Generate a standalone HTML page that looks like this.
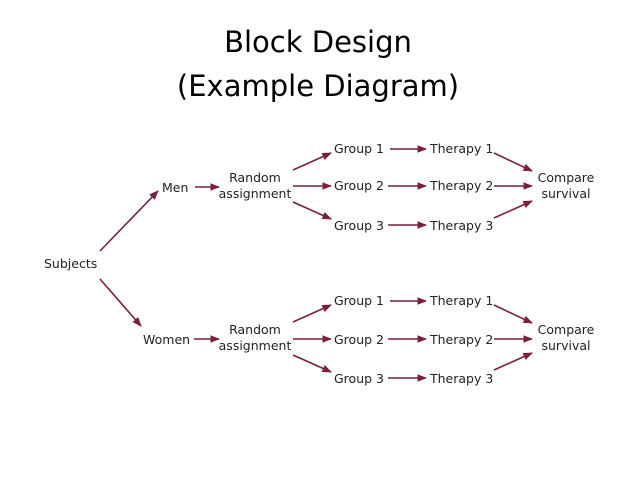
<!DOCTYPE html>
<html><head><meta charset="utf-8"><style>
html,body{margin:0;padding:0;background:#fff;}
svg{display:block;}
text{font-family:"DejaVu Sans","Liberation Sans",sans-serif;fill:#222;}
.t{font-size:12.5px;}
</style></head><body>
<svg width="638" height="479" viewBox="0 0 638 479" xmlns="http://www.w3.org/2000/svg">
<defs><marker id="a" viewBox="0 0 10 10" refX="9" refY="5" markerWidth="6" markerHeight="6" orient="auto"><path d="M0,1 L10,5 L0,9 z" fill="#7a1f3d"/></marker></defs>
<text x="318" y="52" text-anchor="middle" style="font-size:29px;fill:#000">Block Design</text>
<text x="318" y="96" text-anchor="middle" style="font-size:29px;fill:#000">(Example Diagram)</text>
<g stroke="#7a1f3d" stroke-width="1.6" fill="none" marker-end="url(#a)">
<line x1="100" y1="251" x2="158" y2="191"/>
<line x1="100" y1="279" x2="141" y2="326"/>
<line x1="195" y1="187" x2="219" y2="187"/>
<line x1="194" y1="339" x2="219" y2="339"/>
<!-- top -->
<line x1="293" y1="170" x2="331" y2="153"/>
<line x1="293" y1="186" x2="331" y2="186"/>
<line x1="293" y1="202" x2="331" y2="219"/>
<line x1="390" y1="149" x2="426" y2="149"/>
<line x1="388" y1="186" x2="426" y2="186"/>
<line x1="388" y1="225" x2="426" y2="225"/>
<line x1="494" y1="153" x2="532" y2="171"/>
<line x1="494" y1="186" x2="532" y2="186"/>
<line x1="494" y1="218" x2="532" y2="201"/>
<!-- bottom -->
<line x1="293" y1="322" x2="331" y2="305"/>
<line x1="293" y1="339" x2="331" y2="339"/>
<line x1="293" y1="355" x2="331" y2="372"/>
<line x1="390" y1="301" x2="426" y2="301"/>
<line x1="388" y1="339" x2="426" y2="339"/>
<line x1="388" y1="378" x2="426" y2="378"/>
<line x1="494" y1="305" x2="532" y2="323"/>
<line x1="494" y1="339" x2="532" y2="339"/>
<line x1="494" y1="370" x2="532" y2="353"/>
</g>
<g class="t">
<text x="44" y="268" class="t">Subjects</text>
<text x="162" y="192" class="t">Men</text>
<text x="143" y="344" class="t">Women</text>
<text x="255" y="182" text-anchor="middle" class="t">Random</text>
<text x="255" y="198" text-anchor="middle" class="t">assignment</text>
<text x="255" y="334" text-anchor="middle" class="t">Random</text>
<text x="255" y="350" text-anchor="middle" class="t">assignment</text>
<text x="334" y="153" class="t">Group 1</text>
<text x="334" y="190" class="t">Group 2</text>
<text x="334" y="230" class="t">Group 3</text>
<text x="334" y="305" class="t">Group 1</text>
<text x="334" y="344" class="t">Group 2</text>
<text x="334" y="383" class="t">Group 3</text>
<text x="430" y="153" class="t">Therapy 1</text>
<text x="430" y="190" class="t">Therapy 2</text>
<text x="430" y="230" class="t">Therapy 3</text>
<text x="430" y="305" class="t">Therapy 1</text>
<text x="430" y="344" class="t">Therapy 2</text>
<text x="430" y="383" class="t">Therapy 3</text>
<text x="566" y="182" text-anchor="middle" class="t">Compare</text>
<text x="566" y="198" text-anchor="middle" class="t">survival</text>
<text x="566" y="334" text-anchor="middle" class="t">Compare</text>
<text x="566" y="350" text-anchor="middle" class="t">survival</text>
</g>
</svg>
</body></html>
